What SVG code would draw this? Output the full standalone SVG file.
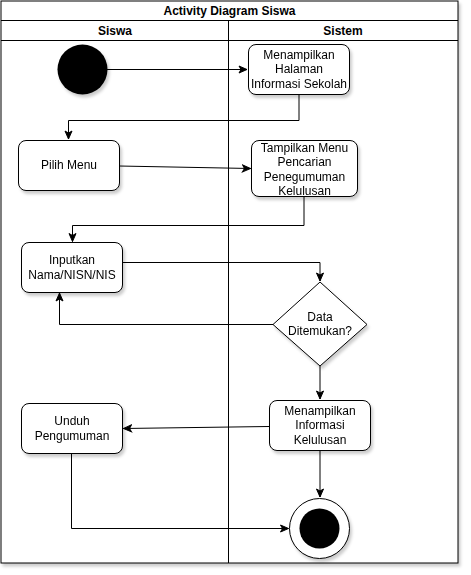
<svg xmlns="http://www.w3.org/2000/svg" width="471" height="575" viewBox="0 0 471 575">
<style>
.frame{fill:none;stroke:#000;stroke-width:1}
.box{fill:#fff;stroke:#000;stroke-width:1}
.t{font-family:"Liberation Sans",Arial,sans-serif;font-size:12px;fill:#000;text-anchor:middle}
.b{font-weight:bold}
.c{fill:none;stroke:#000;stroke-width:1}
</style>
<defs>
<marker id="arr" markerWidth="10" markerHeight="10" refX="9" refY="5" orient="auto" markerUnits="userSpaceOnUse">
<path d="M1,1.5 L9,5 L1,8.5 L3,5 Z" fill="#000" stroke="#000" stroke-width="1"/>
</marker>
<filter id="sh" x="-20%" y="-20%" width="150%" height="150%">
<feDropShadow dx="2" dy="3" stdDeviation="1.5" flood-color="#000" flood-opacity="0.2"/>
</filter>
</defs>
<rect width="471" height="575" fill="#fff"/>
<g id="pool" filter="url(#sh)">
<rect x="1" y="1" width="457" height="562" fill="#fff" stroke="#000"/>
</g>
<g id="lanes">
<line class="frame" x1="1" y1="20.5" x2="458" y2="20.5"/>
<line class="frame" x1="1" y1="40.5" x2="458" y2="40.5"/>
<line class="frame" x1="228.5" y1="20.5" x2="228.5" y2="563"/>
<text class="t b" x="229.5" y="14.5">Activity Diagram Siswa</text>
<text class="t b" x="115" y="34.5">Siswa</text>
<text class="t b" x="343" y="34.5">Sistem</text>
</g>
<g id="connectors">
<line class="c" x1="107" y1="69.5" x2="247" y2="69.5" marker-end="url(#arr)"/>
<polyline class="c" points="299,94 299,120.5 68.5,120.5 68.5,139" marker-end="url(#arr)"/>
<polyline class="c" points="119,166 250.5,168.5" marker-end="url(#arr)"/>
<polyline class="c" points="304,197 304,225.5 72.5,225.5 72.5,241.5" marker-end="url(#arr)"/>
<polyline class="c" points="122.5,262.5 320,262.5 320,281" marker-end="url(#arr)"/>
<polyline class="c" points="273,324.5 59.5,324.5 59.5,293" marker-end="url(#arr)"/>
<line class="c" x1="320" y1="366" x2="320" y2="399" marker-end="url(#arr)"/>
<line class="c" x1="269" y1="426.5" x2="123.5" y2="428.5" marker-end="url(#arr)"/>
<line class="c" x1="320" y1="451" x2="320" y2="497" marker-end="url(#arr)"/>
<polyline class="c" points="71.5,453.5 71.5,528.5 288.5,528.5" marker-end="url(#arr)"/>
</g>
<g id="start" filter="url(#sh)">
<circle cx="82.5" cy="69.5" r="25" fill="#000"/>
</g>
<g id="n1" filter="url(#sh)">
<rect class="box" x="248.5" y="44.5" width="101" height="50" rx="7.5"/>
<text class="t" x="299" y="59">Menampilkan</text>
<text class="t" x="299" y="73">Halaman</text>
<text class="t" x="299" y="87.5">Informasi Sekolah</text>
</g>
<g id="n2" filter="url(#sh)">
<rect class="box" x="18.5" y="140.5" width="101" height="50" rx="7.5"/>
<text class="t" x="69" y="168.5">Pilih Menu</text>
</g>
<g id="n3" filter="url(#sh)">
<rect class="box" x="251.5" y="140.5" width="106" height="56" rx="7.5"/>
<text class="t" x="304.5" y="151.5">Tampilkan Menu</text>
<text class="t" x="304.5" y="166">Pencarian</text>
<text class="t" x="304.5" y="180.5">Penegumuman</text>
<text class="t" x="304.5" y="195">Kelulusan</text>
</g>
<g id="n4" filter="url(#sh)">
<rect class="box" x="21.5" y="242.5" width="101" height="50" rx="7.5"/>
<text class="t" x="72" y="264">Inputkan</text>
<text class="t" x="72" y="279">Nama/NISN/NIS</text>
</g>
<g id="n5" filter="url(#sh)">
<polygon class="box" points="320,282 367,324.5 320,366 273,324.5"/>
<text class="t" x="320" y="321">Data</text>
<text class="t" x="320" y="335">Ditemukan?</text>
</g>
<g id="n6" filter="url(#sh)">
<rect class="box" x="269.5" y="400.5" width="101" height="50" rx="7.5"/>
<text class="t" x="320" y="414.5">Menampilkan</text>
<text class="t" x="320" y="429">Informasi</text>
<text class="t" x="320" y="444">Kelulusan</text>
</g>
<g id="n7" filter="url(#sh)">
<rect class="box" x="21.5" y="403.5" width="101" height="50" rx="7.5"/>
<text class="t" x="72" y="425">Unduh</text>
<text class="t" x="72" y="440">Pengumuman</text>
</g>
<g id="end" filter="url(#sh)">
<circle cx="319.5" cy="528.5" r="30" fill="#fff" stroke="#000"/>
<circle cx="319.5" cy="528.5" r="20" fill="#000"/>
</g>
</svg>
